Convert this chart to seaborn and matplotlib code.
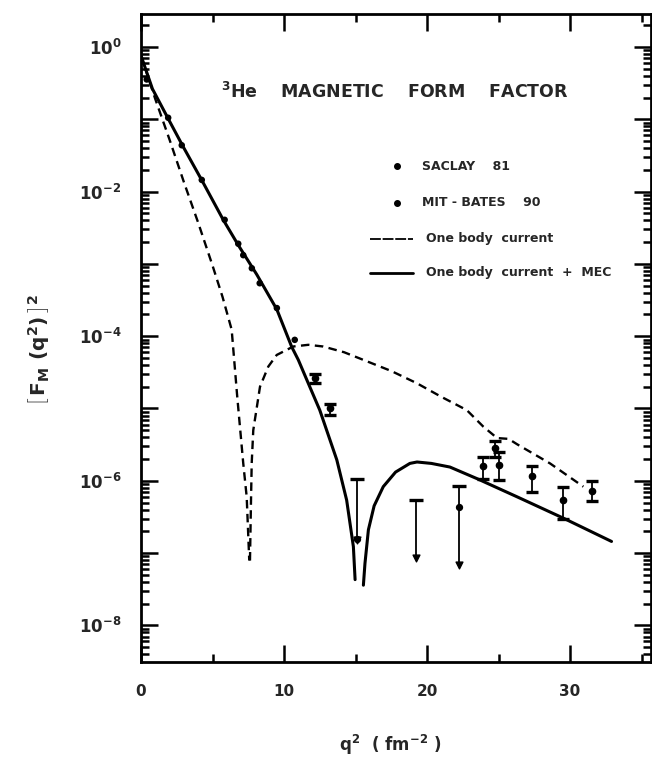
import numpy as np
import pandas as pd
import matplotlib
matplotlib.use("Agg")
import matplotlib.pyplot as plt
import seaborn as sns
from matplotlib.ticker import FixedLocator, LogLocator, NullFormatter

# ---------------- data ----------------
# One body current (dashed), two branches around the zero near q2 ~ 7.6
ob_left_q2 = [0.0, 0.5, 1.0, 2.0, 3.0, 4.0, 5.0, 5.7, 6.34, 6.73, 7.15, 7.39, 7.57]
ob_left_f2 = [0.76, 0.38, 0.19, 0.052, 0.0135, 3.7e-3, 9.5e-4, 3.5e-4, 1.23e-4,
              1.45e-5, 1.74e-6, 6.0e-7, 7.9e-8]
ob_right_q2 = [7.62, 7.68, 7.74, 7.85, 8.32, 8.9, 9.49, 10.65, 11.7, 12.74, 14.2,
               15.55, 17.5, 19.28, 21.0, 22.78, 23.94, 24.9, 25.7, 26.3, 28.6, 30.93]
ob_right_f2 = [7.9e-8, 4.0e-7, 1.74e-6, 5.0e-6, 2.0e-5, 3.8e-5, 5.5e-5, 7.2e-5, 7.6e-5,
               7.2e-5, 6.0e-5, 4.7e-5, 3.3e-5, 2.24e-5, 1.45e-5, 9.5e-6, 5.6e-6,
               3.9e-6, 3.8e-6, 3.2e-6, 1.74e-6, 8.3e-7]

# One body current + MEC (solid), two branches around the zero near q2 ~ 15.2
mec_left_q2 = [0.0, 0.8, 1.9, 2.95, 4.3, 5.75, 6.8, 8.1, 9.5, 10.54, 11.0, 11.59,
               12.5, 13.69, 14.38, 14.85, 14.97]
mec_left_f2 = [0.76, 0.263, 0.102, 0.0417, 0.0138, 4.07e-3, 1.82e-3, 7.1e-4, 2.34e-4,
               7.1e-5, 4.7e-5, 2.5e-5, 9.5e-6, 1.95e-6, 5.4e-7, 1.23e-7, 4.3e-8]
mec_right_q2 = [15.55, 15.66, 15.9, 16.3, 16.94, 17.8, 18.8, 19.3, 20.3, 21.6, 23.5,
                26.3, 29.6, 32.9]
mec_right_f2 = [3.6e-8, 7.2e-8, 2.1e-7, 4.5e-7, 8.3e-7, 1.32e-6, 1.74e-6, 1.82e-6,
                1.74e-6, 1.55e-6, 1.07e-6, 6.0e-7, 3.0e-7, 1.45e-7]

# SACLAY 81
saclay_q2 = [0.4, 1.9, 2.85, 4.25, 5.85, 6.8, 7.15, 7.75, 8.3, 9.5, 10.75]
saclay_f2 = [0.355, 0.105, 0.0437, 0.0145, 4.07e-3, 1.9e-3, 1.32e-3, 8.7e-4, 5.4e-4,
             2.45e-4, 8.9e-5]

# MIT-BATES 90 (value, lower and upper end of error bar)
bates_q2 = [12.17, 13.22, 23.94, 24.75, 25.05, 27.35, 29.5, 31.5]
bates_f2 = [2.63e-5, 1.02e-5, 1.58e-6, 2.8e-6, 1.66e-6, 1.15e-6, 5.5e-7, 7.2e-7]
bates_lo = [2.24e-5, 8.1e-6, 1.05e-6, 2.14e-6, 1.02e-6, 7.1e-7, 3.0e-7, 5.2e-7]
bates_hi = [3.0e-5, 1.17e-5, 2.14e-6, 3.5e-6, 2.5e-6, 1.62e-6, 8.1e-7, 9.8e-7]

# MIT-BATES upper limits (top of bar, arrow tip)
limit_q2 = [15.07, 19.2, 22.25]
limit_top = [1.05e-6, 5.4e-7, 8.5e-7]
limit_tip = [1.5e-7, 8.5e-8, 6.9e-8]
limit_dot_q2 = [15.07, 22.25]
limit_dot_f2 = [1.55e-7, 4.4e-7]

x_ticks = [0, 10, 20, 30]
x_minor = [5, 15, 25, 35]
y_decades = [0, -1, -2, -3, -4, -5, -6, -7, -8]

# ---------------- style ----------------
sns.set_theme(style="ticks")
plt.rcParams["font.family"] = ["DejaVu Sans"]
plt.rcParams["font.weight"] = "bold"
plt.rcParams["mathtext.fontset"] = "custom"
plt.rcParams["mathtext.rm"] = "DejaVu Sans:bold"
plt.rcParams["mathtext.it"] = "DejaVu Sans:italic:bold"
plt.rcParams["mathtext.bf"] = "DejaVu Sans:bold"
plt.rcParams["mathtext.default"] = "rm"

W, H = 652, 758
fig = plt.figure(figsize=(W / 100, H / 100), dpi=100)
fig.patch.set_facecolor("white")
L, R, T, B = 141, 651, 14, 662
ax = fig.add_axes([L / W, 1 - B / H, (R - L) / W, (B - T) / H])
ax.set_facecolor("white")
ax.set_yscale("log")

dash = (0, (3.6, 2.3))
for qx, fy in [(ob_left_q2, ob_left_f2), (ob_right_q2, ob_right_f2)]:
    df = pd.DataFrame({"q2": qx, "f2": fy})
    sns.lineplot(data=df, x="q2", y="f2", ax=ax, color="black", lw=1.7,
                 linestyle=dash, sort=False, estimator=None)
for qx, fy in [(mec_left_q2, mec_left_f2), (mec_right_q2, mec_right_f2)]:
    df = pd.DataFrame({"q2": qx, "f2": fy})
    sns.lineplot(data=df, x="q2", y="f2", ax=ax, color="black", lw=2.2,
                 sort=False, estimator=None)

sns.scatterplot(x=saclay_q2, y=saclay_f2, ax=ax, color="black", s=22,
                edgecolor="none", zorder=5)

bf = np.array(bates_f2)
ax.errorbar(bates_q2, bates_f2,
            yerr=[bf - np.array(bates_lo), np.array(bates_hi) - bf],
            fmt="o", ms=4.5, color="black", ecolor="black", elinewidth=1.3,
            capsize=4.5, capthick=2.4, zorder=5)

ax.vlines(limit_q2, limit_tip, limit_top, color="black", lw=1.3, zorder=5)
ax.scatter(limit_q2, limit_top, marker="_", s=90, linewidths=2.4, color="black", zorder=5)
ax.scatter(limit_q2, limit_tip, marker="v", s=24, color="black", zorder=5)
ax.scatter(limit_dot_q2, limit_dot_f2, marker="o", s=18, color="black", zorder=5)

# ---------------- axes ----------------
ax.set_xlim(0, 35.66)
ax.set_ylim(10 ** -8.506, 10 ** 0.456)
ax.xaxis.set_major_locator(FixedLocator(x_ticks))
ax.xaxis.set_minor_locator(FixedLocator(x_minor))
ax.set_xticklabels([str(v) for v in x_ticks])
ax.set_yticks([10.0 ** k for k in y_decades])
ax.set_yticklabels([r"$\mathdefault{10^{%d}}$" % k if k % 2 == 0 else "" for k in y_decades])
ax.yaxis.set_minor_locator(LogLocator(base=10, subs=np.arange(2, 10), numticks=30))
ax.yaxis.set_minor_formatter(NullFormatter())
ax.tick_params(which="both", direction="in", top=True, right=True,
               color="black", width=1.8)
ax.tick_params(which="major", length=12)
ax.tick_params(which="minor", length=6)
ax.tick_params(axis="x", which="major", labelsize=11, pad=16)
ax.tick_params(axis="y", which="major", labelsize=12, pad=14)
for lab in ax.get_xticklabels() + ax.get_yticklabels():
    lab.set_fontweight("bold")
for s in ax.spines.values():
    s.set_linewidth(2.0)
    s.set_color("black")
ax.set_xlabel("")
ax.set_ylabel("")

# ---------------- texts ----------------
tr = ax.transAxes
ax.text(0.498, 0.880, r"$^{3}$He    MAGNETIC    FORM    FACTOR", transform=tr,
        ha="center", va="center", fontsize=12.5, fontweight="bold")
ax.plot([0.501], [0.765], "o", ms=4, color="black", transform=tr, clip_on=False)
ax.text(0.550, 0.765, "SACLAY    81", transform=tr, ha="left", va="center",
        fontsize=9, fontweight="bold")
ax.plot([0.501], [0.709], "o", ms=4, color="black", transform=tr, clip_on=False)
ax.text(0.550, 0.709, "MIT - BATES    90", transform=tr, ha="left", va="center",
        fontsize=9, fontweight="bold")
ax.plot([0.449, 0.533], [0.653, 0.653], color="black", lw=1.3, linestyle=(0, (6, 1)),
        transform=tr)
ax.text(0.559, 0.653, "One body  current", transform=tr, ha="left", va="center",
        fontsize=9, fontweight="bold")
ax.plot([0.449, 0.533], [0.601, 0.601], color="black", lw=2.0, transform=tr)
ax.text(0.559, 0.601, "One body  current  +  MEC", transform=tr, ha="left",
        va="center", fontsize=9, fontweight="bold")

fig.text(0.060, 0.538, r"$\left[\,F_{M}\ (q^{2})\,\right]^{2}$", rotation=90,
         ha="center", va="center", fontsize=14.5)
fig.text(0.598, 0.017, r"q$^{2}$  ( fm$^{-2}$ )", ha="center", va="center",
         fontsize=12, fontweight="bold")

fig.savefig("out.png", dpi=100, facecolor="white")
